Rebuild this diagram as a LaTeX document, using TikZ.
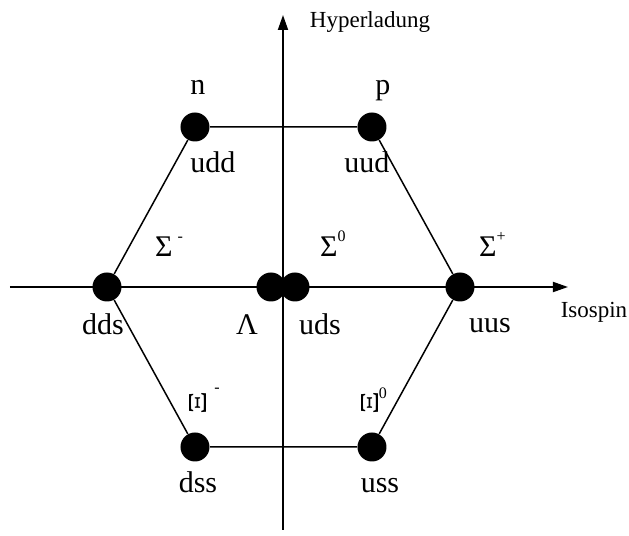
\documentclass[tikz,border=0pt]{standalone}
\usepackage{graphicx}
\usepackage{fontspec}
\setmainfont{Liberation Serif}
\usetikzlibrary{arrows.meta}
\newcommand{\hoch}[1]{\raisebox{0.52em}{\fontsize{8}{8}\selectfont #1}}
\newcommand{\xiquer}{\resizebox{8.5pt}{11.5pt}{\rotatebox{90}{Ξ}}}
\tikzset{
  teilchen/.style={circle, fill=black, inner sep=0pt, minimum size=14.5pt},
  quark/.style={font=\fontsize{15}{18}\selectfont, anchor=base},
  achse/.style={-{Triangle[length=7.5pt,width=5pt]}, line width=0.9pt},
  kante/.style={line width=0.75pt},
  titel/.style={font=\fontsize{11.5}{14}\selectfont, anchor=base}
}

\begin{document}
\begin{tikzpicture}[x=0.5pt, y=0.5pt]
  \useasboundingbox (-283,-249) rectangle (346,287);

  % Achsen
  \coordinate (xa) at (-273,0);
  \coordinate (xe) at (285,0);
  \coordinate (ya) at (0,-243);
  \coordinate (ye) at (0,272);
  \draw[achse] (xa) -- (xe);
  \draw[achse] (ya) -- (ye);
  \node[titel] (iso) at (311,-31) {Isospin};
  \node[titel] (hyp) at (87,259) {Hyperladung};

  % Baryonen
  \node[teilchen] (n)   at (-88,160) {};
  \node[teilchen] (p)   at (89,160) {};
  \node[teilchen] (sm)  at (-176,0) {};
  \node[teilchen] (lam) at (-12,0) {};
  \node[teilchen] (s0)  at (12,0) {};
  \node[teilchen] (sp)  at (177,0) {};
  \node[teilchen] (xm)  at (-88,-160) {};
  \node[teilchen] (x0)  at (89,-160) {};

  % Sechseck
  \draw[kante] (n) -- (p) -- (sp) -- (x0) -- (xm) -- (sm) -- (n);

  % Namen
  \node[quark] (ln) at (-85,192) {n};
  \node[quark] (lp) at (100,192) {p};
  \node[quark, anchor=base west] (lsm) at (-135,30) {Σ\,\hoch{-}};
  \node[quark, anchor=base west] (ls0) at (30,30) {Σ\hoch{0}};
  \node[quark, anchor=base west] (lsp) at (189,30) {Σ\hoch{+}};
  \node[quark] (llam) at (-36,-48) {Λ};
  \node[inner sep=0pt] (lxm) at (-85,-116) {\xiquer};
  \node[font=\fontsize{8}{8}\selectfont] (lxms) at (-66,-103) {-};
  \node[inner sep=0pt] (lx0) at (87,-116) {\xiquer};
  \node[font=\fontsize{8}{8}\selectfont] (lx0s) at (100,-106) {0};

  % Quarkinhalt
  \node[quark] (qn)  at (-70,114) {udd};
  \node[quark] (qp)  at (84,114) {uud};
  \node[quark] (qsm) at (-180,-48) {dds};
  \node[quark] (qs0) at (37,-48) {uds};
  \node[quark] (qsp) at (207,-46) {uus};
  \node[quark] (qxm) at (-85,-206) {dss};
  \node[quark] (qx0) at (97,-206) {uss};
\end{tikzpicture}
\end{document}
